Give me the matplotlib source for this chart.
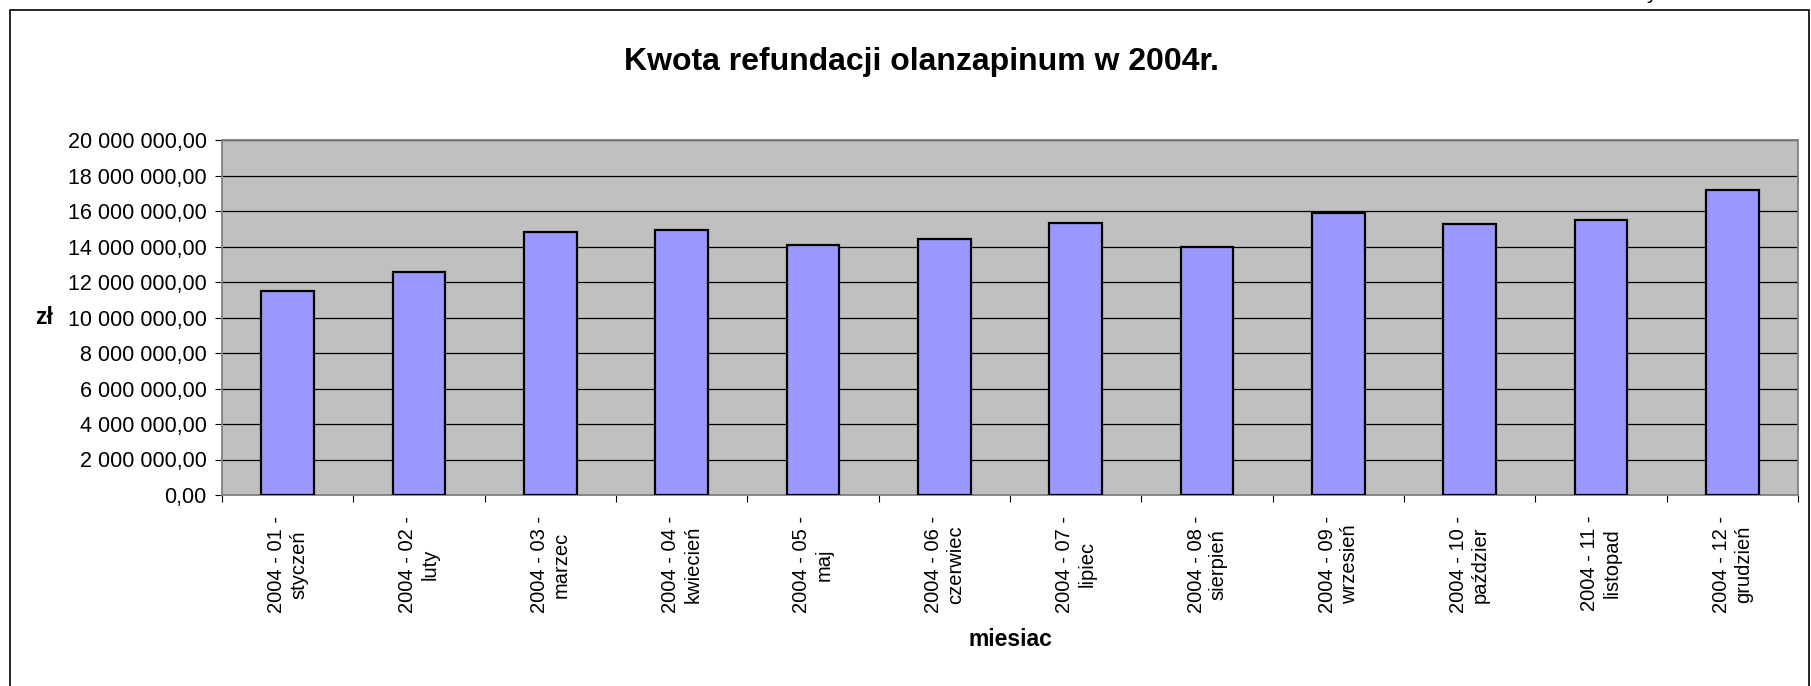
#!/usr/bin/env python

import numpy as np
import matplotlib
matplotlib.use('Agg')
import matplotlib.pyplot as plt
from matplotlib.ticker import FuncFormatter, MultipleLocator
from matplotlib.patches import Rectangle

plt.rcParams['font.family'] = ['Liberation Sans', 'DejaVu Sans']

# data (zl)
month_nums = ['01', '02', '03', '04', '05', '06', '07', '08', '09', '10', '11', '12']
month_names = ['styczeń', 'luty', 'marzec', 'kwiecień', 'maj', 'czerwiec',
               'lipiec', 'sierpień', 'wrzesień', 'paździer', 'listopad', 'grudzień']
refund = [11490000, 12570000, 14800000, 14920000, 14070000, 14450000,
          15350000, 13970000, 15900000, 15250000, 15480000, 17190000]

title = 'Kwota refundacji olanzapinum w 2004r.'
x_title = 'miesiac'
y_title = 'zł'

W, H = 1811, 686


def pln(v, pos=None):
    # "20 000 000,00" style
    return '{:,.2f}'.format(v).replace(',', ' ').replace('.', ',')


fig = plt.figure(figsize=(W / 100, H / 100), dpi=100)
fig.patch.set_facecolor('white')

# plot area in pixels: left 222, right 1798, top 140, bottom 495
ax = fig.add_axes([222 / W, 1 - 495 / H, (1798 - 222) / W, (495 - 140) / H])

x = np.arange(len(refund))
ax.bar(x, refund, width=0.4, color='#9999FF', edgecolor='black',
       linewidth=1.6, zorder=3)

ax.set_xlim(-0.5, len(refund) - 0.5)
ax.set_ylim(0, 20000000)
ax.yaxis.set_major_locator(MultipleLocator(2000000))
ax.yaxis.set_major_formatter(FuncFormatter(pln))
ax.yaxis.grid(True, color='black', linewidth=0.9)
ax.set_axisbelow(True)
ax.set_facecolor('#C0C0C0')
for s in ax.spines.values():
    s.set_color('#808080')
    s.set_linewidth(1.3)

labels = ['2004 - {} -\n{}'.format(n, m) for n, m in zip(month_nums, month_names)]
ax.set_xticks(x)
ax.set_xticklabels(labels, rotation=90, ha='center', va='top',
                   multialignment='center', fontsize=14.5, linespacing=1.2)
ax.set_xticks(np.arange(-0.5, len(refund), 1), minor=True)
ax.tick_params(axis='x', which='major', length=0, pad=15)
ax.tick_params(axis='x', which='minor', length=5, width=0.8,
               color='black', direction='out')
ax.tick_params(axis='y', length=5, width=0.8, color='black',
               direction='out', labelsize=15.5, pad=6)

ax.set_ylabel(y_title, rotation=0, fontsize=16.5, fontweight='bold',
              ha='center', va='center')
ax.yaxis.set_label_coords((44 - 222) / (1798 - 222), 0.5)

fig.text(921 / W, 1 - 70 / H, title, ha='center', va='baseline',
         fontsize=23, fontweight='bold')
fig.text(1010 / W, 1 - 646 / H, x_title, ha='center', va='baseline',
         fontsize=16.5, fontweight='bold')

# chart frame (bottom edge falls outside the picture)
fig.patches.append(Rectangle((10 / W, -0.05), (1809 - 10) / W, 1.05 - 10 / H,
                             transform=fig.transFigure, fill=False,
                             edgecolor='black', linewidth=1.2))
# descender of a letter from the page above
fig.text(1651 / W, 1 + 1 / H, 'y', ha='center', va='baseline', fontsize=15)

fig.savefig('out.png', dpi=100)
